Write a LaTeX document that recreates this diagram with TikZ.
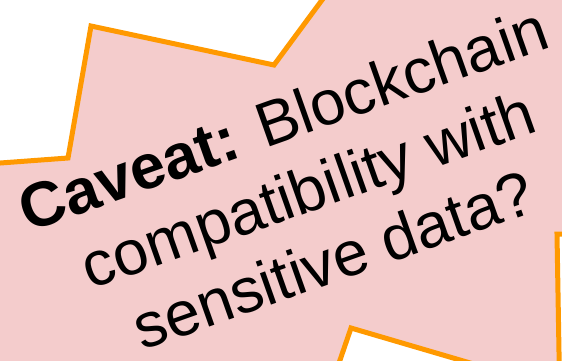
\documentclass[tikz,border=0pt]{standalone}
\usepackage{fontspec}
\setmainfont{Liberation Sans}
\definecolor{pinkfill}{HTML}{F4CCCC}
\definecolor{orangeline}{HTML}{FF9900}
\tikzset{
  burst/.style={fill=pinkfill, draw=orangeline, line width=5pt, line join=miter},
  caveatline/.style={rotate=19.5, anchor=base, inner sep=0pt, font=\fontsize{63}{75}\selectfont}
}
\begin{document}
\begin{tikzpicture}[x=1pt,y=-1pt]
\useasboundingbox (0,0) rectangle (562,360);
\clip (0,0) rectangle (562,360);
\draw[burst] (-20,164.5) -- (68,158) -- (91,26) -- (274,65) -- (329.4,-10) -- (600,-10) -- (600,234) -- (557,234) -- (559.3,370) -- (494,370) -- (351,328) -- (336.6,370) -- (-20,370) -- cycle;
\node[caveatline] (l1) at (290.4,139.7) {\textbf{Caveat:} Blockchain};
\node[caveatline] (l2) at (315.4,210.2) {compatibility with};
\node[caveatline] (l3) at (340.4,280.7) {sensitive data?};
\end{tikzpicture}
\end{document}
